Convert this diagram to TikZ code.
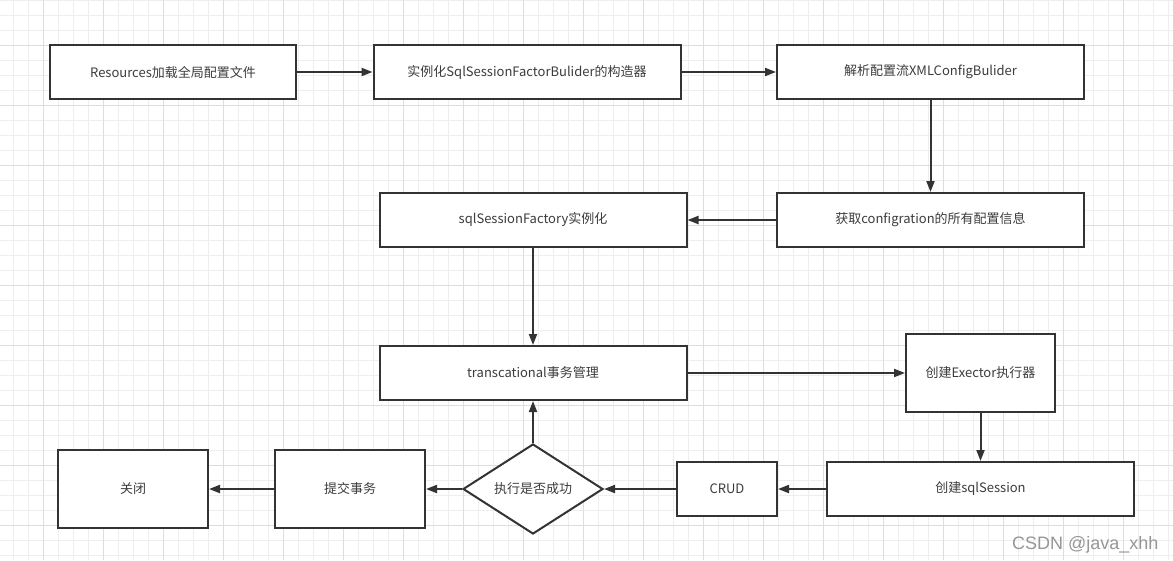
\documentclass[tikz,border=0pt]{standalone}
\usepackage{fontspec}
\setmainfont{Noto Sans CJK SC}
\newfontfamily\wmfont{Liberation Sans}
\usetikzlibrary{shapes.geometric, arrows.meta, positioning}
\definecolor{lineDark}{RGB}{51, 51, 51}
\definecolor{textDark}{RGB}{60, 60, 60}
\definecolor{gridMinor}{RGB}{238, 238, 238}
\definecolor{gridMajor}{RGB}{222, 222, 222}
\definecolor{wmGray}{RGB}{150, 150, 150}
\tikzset{
    flowbox/.style={
        rectangle, draw=lineDark, fill=white, line width=2pt,
        text=textDark, align=center, minimum width=307pt, minimum height=54pt,
        inner sep=0pt, font=\fontsize{13}{15}\selectfont
    },
    decision/.style={
        diamond, draw=lineDark, fill=white, line width=2pt, aspect=1.556,
        text=textDark, minimum width=140pt, minimum height=90pt,
        inner sep=0pt, font=\fontsize{13}{15}\selectfont
    },
    arrow/.style={-{Triangle[length=11pt, width=8pt]}, line width=2pt, color=lineDark},
}

\begin{document}
\begin{tikzpicture}[x=1pt, y=-1pt]
    \useasboundingbox (0,0) rectangle (1173,560);
    % Grid
    \fill[white] (0,0) rectangle (1173,560);
    \foreach \i in {0,...,77}
        \draw[gridMinor, line width=1pt] ({13.33+15*\i},0) -- ++(0,560);
    \foreach \i in {0,...,37}
        \draw[gridMinor, line width=1pt] (0,{15*\i}) -- ++(1173,0);
    \foreach \i in {0,...,18}
        \draw[gridMajor, line width=1pt] ({43.33+60*\i},0) -- ++(0,560);
    \foreach \i in {0,...,8}
        \draw[gridMajor, line width=1pt] (0,{45+60*\i}) -- ++(1173,0);

    % Boxes
    \node[flowbox, minimum width=246pt] (res) at (173, 72) {Resources加载全局配置文件};
    \node[flowbox] (ctor) at (527, 72) {实例化SqlSessionFactorBulider的构造器};
    \node[flowbox] (xml) at (930.5, 72) {解析配置流XMLConfigBulider};
    \node[flowbox] (conf) at (930.5, 220) {获取configration的所有配置信息};
    \node[flowbox] (factory) at (533, 220) {sqlSessionFactory实例化};
    \node[flowbox] (trans) at (533, 373) {transcational事务管理};
    \node[flowbox, minimum width=149pt, minimum height=78pt] (exec) at (980.5, 373) {创建Exector执行器};
    \node[flowbox] (sess) at (980.5, 489) {创建sqlSession};
    \node[flowbox, minimum width=100pt] (crud) at (727, 489) {CRUD};
    \node[decision] (check) at (533, 489) {执行是否成功};
    \node[flowbox, minimum width=150pt, minimum height=78pt] (commit) at (350, 489) {提交事务};
    \node[flowbox, minimum width=150pt, minimum height=78pt] (close) at (133, 489) {关闭};

    % Arrows
    \draw[arrow] (res) -- (ctor);
    \draw[arrow] (ctor) -- (xml);
    \draw[arrow] (xml) -- (conf);
    \draw[arrow] (conf) -- (factory);
    \draw[arrow] (factory) -- (trans);
    \draw[arrow] (trans) -- (exec);
    \draw[arrow] (exec) -- (sess);
    \draw[arrow] (sess) -- (crud);
    \draw[arrow] (crud) -- (check);
    \draw[arrow] (check) -- (trans);
    \draw[arrow] (check) -- (commit);
    \draw[arrow] (commit) -- (close);

    % Watermark
    \node[anchor=base west, inner sep=0pt, text=wmGray, font=\wmfont\fontsize{18}{20}\selectfont] (wm) at (1012, 549) {CSDN @java\_xhh};
\end{tikzpicture}
\end{document}
